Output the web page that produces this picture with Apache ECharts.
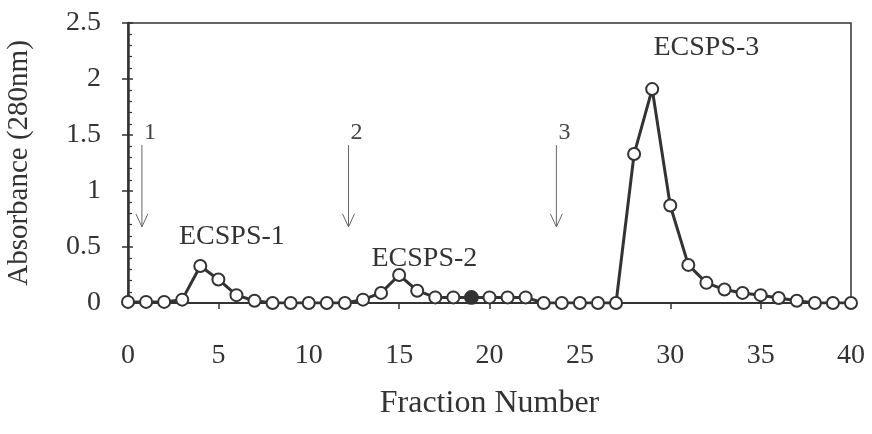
<!DOCTYPE html>
<html>
<head>
<meta charset="utf-8">
<script src="https://cdn.jsdelivr.net/npm/echarts@6/dist/echarts.min.js"></script>
<style>
html,body{margin:0;padding:0;background:#fff;}
#chart{width:872px;height:434px;}
</style>
</head>
<body>
<div id="chart"></div>
<script>
// fraction number / absorbance (280nm)
var fractions = [0,1,2,3,4,5,6,7,8,9,10,11,12,13,14,15,16,17,18,19,20,
                 21,22,23,24,25,26,27,28,29,30,31,32,33,34,35,36,37,38,39,40];
var absorbance = [0.01,0.01,0.01,0.03,0.33,0.21,0.07,0.02,0.00,0.00,0.00,
                  0.00,0.00,0.03,0.09,0.25,0.11,0.05,0.05,0.05,0.05,
                  0.05,0.05,0.00,0.00,0.00,0.00,0.00,1.33,1.91,0.87,
                  0.34,0.18,0.12,0.09,0.07,0.045,0.02,0.00,0.00,0.00];
var filledPoint = 19;   // this one is drawn solid in the original

// elution steps: [x, arrow top, arrow bottom, text]
var arrowX = [0.77, 12.2, 23.7];
var arrowTop = [1.41, 1.41, 1.41];
var arrowBottom = [0.68, 0.68, 0.68];
var arrowText = ['1', '2', '3'];

// peak names
var peakNames = ['ECSPS-1', 'ECSPS-2', 'ECSPS-3'];
var peakX = [5.75, 16.4, 32.0];
var peakY = [0.59, 0.40, 2.28];

var ink = '#333';
var font = '"Liberation Serif", "DejaVu Serif", serif';

var lineData = fractions.map(function(f, i){
	var p = {value: [f, absorbance[i]]};
	if (f == filledPoint) p.symbol = 'circle';
	return p;
});

var arrowData = arrowX.map(function(x, i){
	return [x, arrowTop[i], arrowBottom[i], arrowText[i]];
});
var peakData = peakNames.map(function(n, i){
	return [peakX[i], peakY[i], n];
});

var chart = echarts.init(document.getElementById('chart'));
var opt = {
	backgroundColor: '#fff',
	animation: false,
	grid: {
		left: 128, right: 21, top: 23, bottom: 131,
		show: true, borderColor: ink, borderWidth: 1.5,
		containLabel: false,
		outerBoundsMode: 'none'
	},
	xAxis: {
		type: 'value', min: 0, max: 40, interval: 5,
		name: 'Fraction Number', nameLocation: 'middle', nameGap: 85,
		nameTextStyle: {fontFamily: font, fontSize: 32, color: ink},
		axisLine: {show: true, onZero: false, lineStyle: {color: ink, width: 2}},
		axisTick: {show: true, length: 6, lineStyle: {color: ink, width: 1.5}},
		axisLabel: {margin: 39, fontFamily: font, fontSize: 28, color: ink},
		splitLine: {show: false}
	},
	yAxis: [{
		type: 'value', min: 0, max: 2.5, interval: 0.5,
		name: 'Absorbance (280nm)', nameLocation: 'middle', nameGap: 94,
		nameTextStyle: {fontFamily: font, fontSize: 29, color: ink},
		axisLine: {show: true, onZero: false, lineStyle: {color: ink, width: 2.5}},
		axisTick: {show: true, length: 6, lineStyle: {color: ink, width: 1.5}},
		axisLabel: {margin: 27, fontFamily: font, fontSize: 28, color: ink,
			formatter: function(v){ return String(v); }},
		splitLine: {show: false}
	}, {
		// inner minor ticks
		type: 'value', min: 0, max: 2.5, interval: 0.5, position: 'left',
		axisLine: {show: false},
		axisTick: {show: true, inside: true, length: 5, lineStyle: {color: ink, width: 1.5}},
		minorTick: {show: true, splitNumber: 5, length: 4, lineStyle: {color: ink, width: 1.2}},
		axisLabel: {show: false},
		splitLine: {show: false}
	}],
	series: [{
		type: 'line',
		data: lineData,
		symbol: 'emptyCircle',
		symbolSize: 12,
		lineStyle: {color: ink, width: 3},
		itemStyle: {color: ink, borderColor: ink, borderWidth: 2.8},
		z: 3
	}, {
		type: 'custom',
		data: arrowData,
		renderItem: function(params, api){
			var top = api.coord([api.value(0), api.value(1)]);
			var bot = api.coord([api.value(0), api.value(2)]);
			return {
				type: 'group',
				children: [{
					type: 'line',
					shape: {x1: top[0], y1: top[1], x2: bot[0], y2: bot[1]},
					style: {stroke: '#666', lineWidth: 1}
				}, {
					type: 'polyline',
					shape: {points: [[bot[0] - 6, bot[1] - 13], [bot[0], bot[1]], [bot[0] + 6, bot[1] - 13]]},
					style: {stroke: '#666', lineWidth: 1, fill: null}
				}, {
					type: 'text',
					style: {x: top[0] + 8, y: top[1] - 12, text: api.value(3),
						font: '24px ' + font, fill: '#444',
						textAlign: 'center', textVerticalAlign: 'middle'}
				}]
			};
		},
		z: 2
	}, {
		type: 'custom',
		data: peakData,
		renderItem: function(params, api){
			var p = api.coord([api.value(0), api.value(1)]);
			return {
				type: 'text',
				style: {x: p[0], y: p[1], text: api.value(2),
					font: '28px ' + font, fill: ink,
					textAlign: 'center', textVerticalAlign: 'middle'}
			};
		},
		z: 2
	}]
};
chart.setOption(opt);
</script>
</body>
</html>
